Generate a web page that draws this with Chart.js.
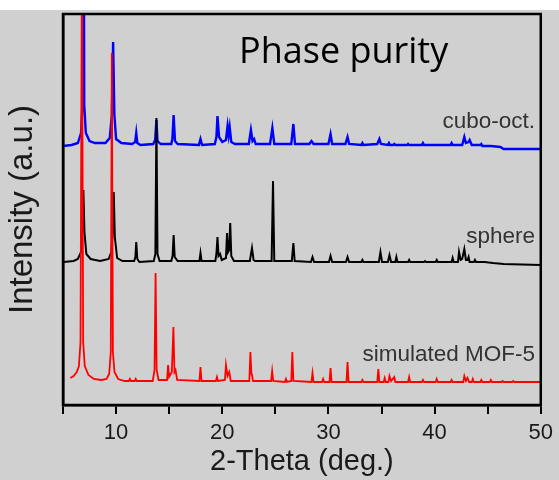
<!DOCTYPE html>
<html><head><meta charset="utf-8">
<script src="https://cdn.jsdelivr.net/npm/chart.js@4.4.0/dist/chart.umd.min.js"></script>
<style>html,body{margin:0;padding:0;background:#d0d0d0;} canvas{display:block;}</style>
</head><body>
<canvas id="c" width="559" height="480"></canvas>
<script>
// ---- data ----
const seriesNames = ['simulated MOF-5', 'sphere', 'cubo-oct.'];
const xTickLabels = [10, 20, 30, 40, 50];
const chartTitle = 'Phase purity';

// [2-theta (deg), intensity (a.u., relative to own baseline)]
const simMOF5 = [[5.7,4],[6.0,6],[6.3,10],[6.5,16],[6.65,40],[6.78,420],[6.9,40],[7.05,16],[7.4,7],[7.9,3],[8.6,2],[9.1,3],[9.35,8],[9.5,30],[9.6,329],[9.7,30],[9.85,10],[10.2,3],[10.8,1],[11.2,1],[11.3,3],[11.4,1],[11.75,1],[11.85,3],[11.95,1],[13.45,1],[13.62,12],[13.72,109],[13.82,12],[14.0,2],[14.8,2],[14.9,17],[15.0,5],[15.25,10],[15.4,55],[15.5,10],[15.6,12],[15.75,2],[17.85,1],[17.95,15],[18.05,1],[19.4,1],[19.5,5],[19.6,1],[20.25,2],[20.35,17],[20.5,6],[20.66,10],[20.8,1],[22.55,1],[22.65,30],[22.75,8],[22.8,7],[22.9,1],[24.6,1],[24.7,11],[24.8,1],[25.9,0],[26.0,3],[26.1,0],[26.5,1],[26.6,30],[26.7,1],[28.4,0],[28.5,9],[28.6,0],[29.4,0],[29.5,3],[29.6,0],[30.1,0],[30.2,14],[30.3,0],[31.7,0],[31.8,20],[31.9,0],[33.1,0],[33.2,2],[33.3,0],[34.6,0],[34.7,13],[34.8,0],[35.2,0],[35.3,4],[35.4,0],[35.65,0],[35.75,6],[35.9,1],[36.2,5],[36.3,0],[37.5,0],[37.6,5],[37.7,0],[38.8,0],[38.9,2],[39.0,0],[40.1,0],[40.2,3],[40.3,0],[41.5,0],[41.6,2],[41.7,0],[42.7,0],[42.8,6],[42.95,1],[43.1,4],[43.25,0],[43.5,0],[43.6,3],[43.7,0],[44.3,0],[44.4,2],[44.5,0],[45.2,0],[45.3,2],[45.4,0],[46.3,0],[46.4,1],[46.5,0],[47.3,0],[47.4,1],[47.5,0],[50.0,0]];

const sphere = [[5.05,0],[6.0,1],[6.4,3],[6.7,10],[6.82,30],[6.92,72],[7.02,30],[7.2,8],[7.6,3],[8.5,1],[9.3,3],[9.55,10],[9.68,30],[9.78,70],[9.88,25],[10.1,4],[10.6,1],[11.7,1],[11.82,5],[11.9,20],[12.0,3],[12.2,0],[13.55,1],[13.7,8],[13.8,144],[13.9,8],[14.1,1],[15.2,1],[15.32,6],[15.42,27],[15.52,5],[15.8,1],[17.85,1],[17.95,9],[18.05,1],[19.35,1],[19.45,8],[19.55,25],[19.65,6],[19.8,8],[19.95,2],[20.35,4],[20.45,29],[20.55,10],[20.65,12],[20.75,39],[20.85,6],[21.1,1],[22.6,1],[22.8,14],[22.95,2],[23.1,1],[24.65,1],[24.78,81],[24.9,1],[26.55,1],[26.7,19],[26.82,1],[28.35,0],[28.5,5],[28.65,0],[30.05,0],[30.2,6],[30.35,0],[31.65,0],[31.8,5],[31.95,0],[33.1,0],[33.2,2],[33.3,0],[34.75,0],[34.9,10],[35.05,0],[35.6,0],[35.75,7],[35.9,0],[36.3,0],[36.4,5],[36.5,0],[37.5,0],[37.6,2],[37.7,0],[39.0,0],[39.1,1],[39.2,0],[40.1,0],[40.2,2],[40.3,0],[41.6,0],[41.7,4],[41.8,0],[42.2,0],[42.3,10],[42.45,2],[42.6,3],[42.8,13],[42.95,2],[43.1,2],[43.2,5],[43.3,0],[43.7,0],[43.8,2],[43.9,0],[44.7,0],[45.5,-1],[46.5,-2],[50.0,-3]];

const cuboOct = [[5.0,-1],[5.8,0],[6.4,2],[6.7,12],[6.83,40],[6.92,420],[7.0,40],[7.15,12],[7.5,4],[8.0,2],[9.0,2],[9.4,7],[9.6,30],[9.72,103],[9.84,30],[10.0,6],[10.5,2],[11.5,1],[11.8,3],[11.9,12],[12.0,2],[12.3,0],[13.5,1],[13.68,5],[13.8,25],[13.9,4],[14.2,1],[15.2,1],[15.3,6],[15.42,30],[15.55,4],[15.8,1],[17.8,0],[17.95,6],[18.1,0],[19.3,1],[19.45,8],[19.55,29],[19.7,8],[20.0,3],[20.35,5],[20.5,19],[20.6,10],[20.7,18],[20.85,3],[21.2,1],[22.5,1],[22.7,15],[22.85,4],[23.0,6],[23.15,1],[24.5,1],[24.72,17],[24.9,1],[26.5,1],[26.7,21],[26.85,1],[28.2,1],[28.4,4],[28.6,1],[30.0,1],[30.2,11],[30.35,1],[31.6,1],[31.8,8],[31.95,1],[33.1,0],[33.2,2],[33.3,0],[34.6,1],[34.8,6],[34.95,1],[35.6,0],[35.7,2],[35.8,0],[36.1,0],[36.2,1],[36.3,0],[37.4,0],[37.5,1],[37.6,0],[38.8,0],[38.9,2],[39.0,0],[40.25,0],[41.5,0],[41.6,2],[41.7,0],[42.6,0],[42.8,8],[42.95,2],[43.2,3],[43.3,5],[43.5,0],[44.3,0],[44.4,1],[44.5,-1],[45.3,-1],[46.2,-2],[46.5,-4],[50.0,-4]];

// vertical stacking offsets of the three patterns (a.u.)
const stackOffsets = [23, 143, 260];

// ---- chart ----
const patterns = [simMOF5, sphere, cuboOct];
const colors = ['#ff0000', '#000000', '#0000ff'];
const widths = [1.8, 2, 2.4];
const labelY = [361, 243, 128];
const FONT = "'Liberation Sans', Arial, Helvetica, sans-serif";

const datasets = patterns.map((p, i) => ({
  label: seriesNames[i],
  data: p.map(([x, y]) => ({x: x, y: y + stackOffsets[i]})),
  borderColor: colors[i],
  borderWidth: widths[i],
  pointRadius: 0,
  tension: 0,
  fill: false
}));

const bgPlugin = {
  id: 'bg',
  beforeDraw(chart) {
    const ctx = chart.ctx;
    ctx.save();
    ctx.fillStyle = '#d0d0d0';
    ctx.fillRect(0, 0, chart.width, chart.height);
    ctx.fillStyle = '#ffffff';
    ctx.fillRect(0, 0, chart.width, 10);
    ctx.restore();
  }
};

const framePlugin = {
  id: 'frame',
  afterDatasetsDraw(chart) {
    const {ctx, chartArea: a} = chart;
    ctx.save();
    ctx.strokeStyle = '#000';
    ctx.lineWidth = 2.5;
    ctx.strokeRect(a.left, a.top, a.right - a.left, a.bottom - a.top);
    // series labels
    ctx.fillStyle = '#333';
    ctx.font = "22.5px " + FONT;
    ctx.textAlign = 'right';
    ctx.textBaseline = 'alphabetic';
    chart.data.datasets.forEach((d, i) => {
      ctx.fillText(d.label, 535, labelY[i]);
    });
    // panel title
    ctx.fillStyle = '#000';
    ctx.font = "36px 'Open Sans', 'Noto Sans', sans-serif";
    ctx.textAlign = 'left';
    ctx.fillText(chartTitle, 239, 63);
    ctx.restore();
  }
};

new Chart(document.getElementById('c'), {
  type: 'line',
  data: {datasets},
  options: {
    responsive: false,
    animation: false,
    layout: {padding: {top: 14, right: 17, left: 0, bottom: 0}},
    plugins: {legend: {display: false}, tooltip: {enabled: false}},
    scales: {
      x: {
        type: 'linear',
        min: 5, max: 50,
        afterFit: s => { s.height = 75; },
        ticks: {
          stepSize: 5,
          autoSkip: false,
          maxRotation: 0,
          padding: 6,
          color: '#1a1a1a',
          font: {family: FONT, size: 22},
          callback: v => xTickLabels.includes(v) ? String(v) : ''
        },
        grid: {display: true, drawOnChartArea: false, drawTicks: true, tickLength: 9, color: '#000', lineWidth: 2},
        border: {display: true, color: '#000', width: 2.5},
        title: {display: true, text: '2-Theta (deg.)', color: '#1a1a1a',
                font: {family: FONT, size: 29}, padding: {top: 0, bottom: 1}}
      },
      y: {
        type: 'linear',
        min: 0, max: 391,
        afterFit: s => { s.width = 63; },
        ticks: {display: false},
        grid: {display: false},
        border: {display: true, color: '#000', width: 2.5},
        title: {display: true, text: 'Intensity (a.u.)', color: '#1a1a1a',
                font: {family: FONT, size: 33}, padding: {top: 3, bottom: 0}}
      }
    }
  },
  plugins: [bgPlugin, framePlugin]
});
</script>
</body></html>
